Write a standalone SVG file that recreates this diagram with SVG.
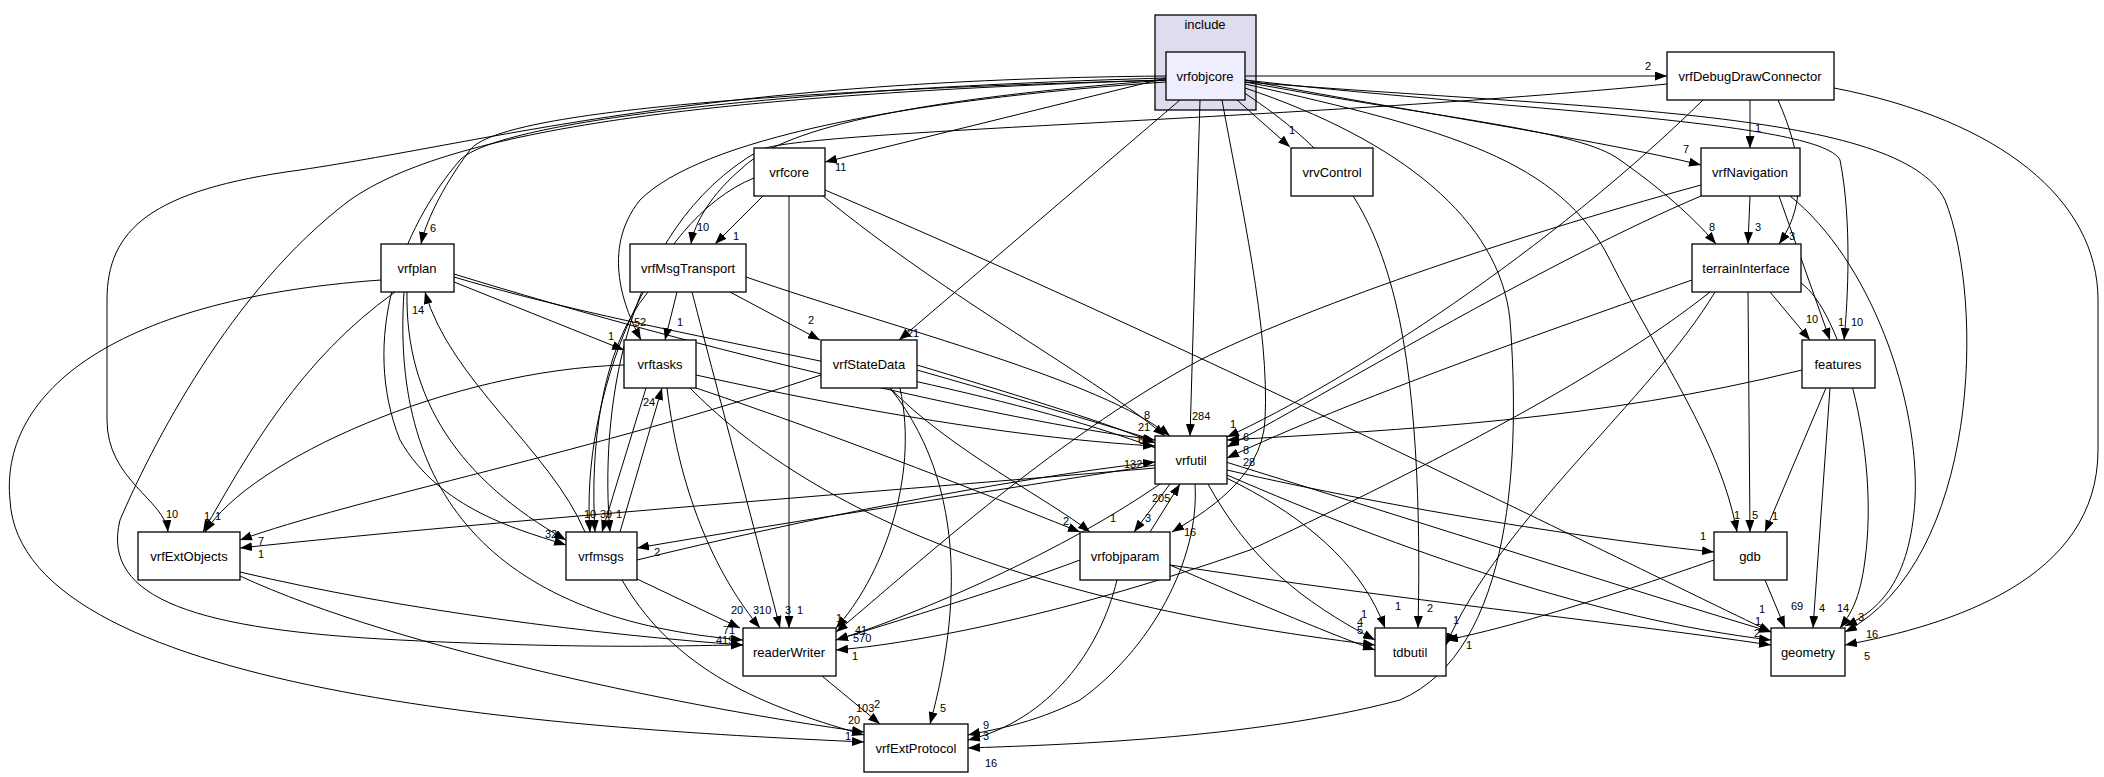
<svg xmlns="http://www.w3.org/2000/svg" width="2104" height="777" viewBox="0 0 2104 777">
<style>
.n rect{fill:#fff;stroke:#000;stroke-width:1.3}
.n text{font-family:"Liberation Sans",Arial,sans-serif;font-size:13px;text-anchor:middle;dominant-baseline:central}
#edges path{fill:none;stroke:#000;stroke-width:1}
.l{font-family:"Liberation Sans",Arial,sans-serif;font-size:11px}
</style>
<defs><marker id="a" markerUnits="userSpaceOnUse" markerWidth="12" markerHeight="9" refX="12" refY="4.5" orient="auto"><path d="M0,0L12,4.5L0,9z" fill="#000"/></marker></defs>
<rect width="2104" height="777" fill="#fff"/>
<g id="cluster_include"><rect x="1155" y="15" width="101" height="95" fill="#dddded" stroke="#000" stroke-width="1.3"/><text x="1205" y="29" font-family="Liberation Sans,Arial,sans-serif" font-size="13" text-anchor="middle">include</text></g>
<g id="edges" marker-end="url(#a)">
<path d="M1245,76 L1667,76"/>
<path d="M1237,100 L1290,147"/>
<path d="M1245,80 C1400,110 1600,140 1701,165"/>
<path d="M1245,82 C1450,120 1580,130 1620,160 C1670,195 1700,225 1716,244"/>
<path d="M1245,80 C1500,110 1820,120 1840,160 C1852,220 1848,300 1844,340"/>
<path d="M1245,84 C1450,130 1560,160 1610,260 C1660,360 1720,440 1737,532"/>
<path d="M1245,82 C1600,110 1900,110 1945,200 C1985,300 1980,560 1845,632"/>
<path d="M1166,78 L825,162"/>
<path d="M1166,80 C900,100 780,130 740,170 C705,200 693,230 691,244"/>
<path d="M1166,80 C800,90 500,110 470,150 C440,190 425,225 421,244"/>
<path d="M1166,82 C900,100 700,140 640,200 C600,250 625,310 641,340"/>
<path d="M1180,100 L899,340"/>
<path d="M1200,100 L1190,436"/>
<path d="M1222,100 C1240,200 1270,330 1265,420 C1262,480 1200,515 1172,532"/>
<path d="M1243,92 C1330,150 1370,200 1395,300 C1420,400 1420,550 1418,628"/>
<path d="M1245,88 C1400,140 1500,220 1510,320 C1520,450 1515,650 1400,700 C1250,740 1050,745 968,748"/>
<path d="M1166,76 C700,80 500,140 300,170 C150,190 107,230 107,300 L107,420 C107,480 165,500 168,532"/>
<path d="M1166,78 C800,88 500,120 460,160 C400,230 360,340 400,440 C440,510 520,530 566,545"/>
<path d="M1166,80 C700,95 450,130 350,200 C230,290 150,450 120,520 C100,600 200,630 400,640 C600,650 700,645 743,645"/>
<path d="M1750,100 L1750,148"/>
<path d="M1778,100 C1800,150 1810,200 1779,244"/>
<path d="M1703,100 C1550,250 1350,380 1227,437"/>
<path d="M1834,88 C2000,120 2098,200 2098,300 L2098,450 C2098,580 1950,625 1845,645"/>
<path d="M1667,84 C1300,120 800,130 760,150 C620,230 600,420 610,532"/>
<path d="M1750,196 L1748,244"/>
<path d="M1779,196 L1830,340"/>
<path d="M1790,196 C1870,260 1920,400 1915,500 C1910,580 1880,610 1845,626"/>
<path d="M1701,196 C1550,260 1350,380 1227,447"/>
<path d="M1701,185 C1500,240 1300,310 1200,360 C1050,440 900,580 836,632"/>
<path d="M1692,280 C1550,330 1350,400 1227,458"/>
<path d="M1710,292 C1600,380 1400,480 1250,550 C1050,620 900,645 836,650"/>
<path d="M1715,292 C1650,400 1500,520 1446,645"/>
<path d="M1748,292 L1750,532"/>
<path d="M1770,292 L1810,340"/>
<path d="M1801,283 C1840,310 1880,450 1865,560 C1860,600 1850,615 1840,628"/>
<path d="M1802,370 C1600,420 1400,430 1227,440"/>
<path d="M1826,388 L1765,532"/>
<path d="M1830,388 L1813,628"/>
<path d="M1714,560 C1600,600 1500,630 1446,640"/>
<path d="M1765,580 L1785,628"/>
<path d="M1227,470 C1400,510 1600,540 1714,552"/>
<path d="M1227,475 C1400,550 1600,620 1771,640"/>
<path d="M1208,484 C1250,560 1300,600 1375,640"/>
<path d="M1170,484 L1134,532"/>
<path d="M1160,484 C1050,560 900,620 836,640"/>
<path d="M1195,484 C1200,560 1150,650 1080,700 C1030,725 990,730 968,735"/>
<path d="M1155,465 C1000,490 800,520 637,548"/>
<path d="M1155,468 C900,490 500,520 240,548"/>
<path d="M1150,532 L1180,484"/>
<path d="M1080,560 C1000,590 900,620 836,640"/>
<path d="M1170,565 C1250,600 1320,630 1375,650"/>
<path d="M1170,565 C1400,600 1600,620 1771,645"/>
<path d="M1117,580 C1100,650 1050,720 968,740"/>
<path d="M637,560 C800,520 1000,480 1155,462"/>
<path d="M620,532 L662,388"/>
<path d="M585,532 C550,450 450,380 425,292"/>
<path d="M635,578 L740,628"/>
<path d="M622,580 C680,680 780,710 864,735"/>
<path d="M646,388 L602,532"/>
<path d="M624,365 C450,370 250,460 205,532"/>
<path d="M696,375 C900,420 1050,440 1155,446"/>
<path d="M696,388 C850,440 1000,500 1080,532"/>
<path d="M690,388 C800,500 1000,600 1375,645"/>
<path d="M667,388 C680,500 720,580 760,628"/>
<path d="M454,282 L624,350"/>
<path d="M395,292 C300,360 250,450 203,532"/>
<path d="M407,292 C405,400 460,480 566,540"/>
<path d="M454,274 C700,350 1000,420 1155,440"/>
<path d="M454,277 C800,380 1300,400 1385,628"/>
<path d="M404,292 C390,500 500,620 743,640"/>
<path d="M381,280 C100,300 0,400 10,500 C20,700 600,730 864,742"/>
<path d="M821,375 C600,450 350,500 240,540"/>
<path d="M917,365 C1000,390 1100,420 1155,443"/>
<path d="M890,388 C950,450 1050,500 1090,532"/>
<path d="M900,388 C920,480 880,580 836,628"/>
<path d="M890,388 C980,500 950,650 930,724"/>
<path d="M917,370 C1200,450 1500,550 1771,632"/>
<path d="M677,292 L665,340"/>
<path d="M730,292 L820,340"/>
<path d="M648,292 C600,350 590,450 595,532"/>
<path d="M692,292 C720,400 760,550 780,628"/>
<path d="M746,277 C900,330 1100,380 1170,436"/>
<path d="M763,196 L715,244"/>
<path d="M789,196 L789,628"/>
<path d="M754,178 C650,220 580,400 590,532"/>
<path d="M823,196 C950,300 1100,380 1165,436"/>
<path d="M825,190 C1200,350 1600,550 1771,632"/>
<path d="M240,572 C400,610 600,635 743,645"/>
<path d="M240,576 C400,650 700,710 864,732"/>
<path d="M822,676 L880,724"/>
</g>
<g id="labels" class="l">
<text x="1645" y="70">2</text><text x="1289" y="134">1</text><text x="1683" y="153">7</text><text x="1709" y="231">8</text><text x="1851" y="326">10</text>
<text x="1734" y="519">1</text><text x="1866" y="638">16</text><text x="835" y="171">11</text><text x="697" y="231">10</text><text x="430" y="232">6</text>
<text x="634" y="326">52</text><text x="907" y="337">21</text><text x="1192" y="420">284</text><text x="1184" y="536">16</text><text x="1427" y="612">2</text>
<text x="985" y="767">16</text><text x="166" y="518">10</text><text x="545" y="538">32</text><text x="716" y="644">419</text><text x="1755" y="132">1</text>
<text x="1789" y="240">3</text><text x="1230" y="428">1</text><text x="1864" y="660">5</text><text x="616" y="518">1</text><text x="1755" y="231">3</text>
<text x="1838" y="326">1</text><text x="1858" y="621">3</text><text x="1243" y="454">8</text><text x="836" y="622">1</text><text x="1243" y="466">28</text>
<text x="852" y="660">1</text><text x="1466" y="649">1</text><text x="1752" y="519">5</text><text x="1806" y="323">10</text><text x="1837" y="612">14</text>
<text x="1243" y="441">6</text><text x="1772" y="520">1</text><text x="1819" y="612">4</text><text x="1453" y="624">1</text><text x="1791" y="610">69</text>
<text x="1700" y="540">1</text><text x="1754" y="637">2</text><text x="1361" y="618">1</text><text x="1145" y="522">3</text><text x="853" y="642">570</text>
<text x="983" y="729">9</text><text x="654" y="556">2</text><text x="258" y="545">7</text><text x="1152" y="502">205</text><text x="855" y="634">41</text>
<text x="1357" y="634">5</text><text x="1755" y="625">1</text><text x="983" y="740">3</text><text x="1124" y="468">132</text><text x="643" y="406">24</text>
<text x="412" y="314">14</text><text x="731" y="614">20</text><text x="856" y="712">103</text><text x="600" y="518">39</text><text x="215" y="520">1</text>
<text x="1144" y="419">8</text><text x="1063" y="525">2</text><text x="1357" y="626">4</text><text x="753" y="614">310</text><text x="608" y="340">1</text>
<text x="204" y="520">1</text><text x="1395" y="610">1</text><text x="723" y="634">71</text><text x="845" y="740">1</text><text x="258" y="558">1</text>
<text x="1138" y="431">21</text><text x="1110" y="522">1</text><text x="940" y="712">5</text><text x="1759" y="613">1</text><text x="677" y="326">1</text>
<text x="808" y="324">2</text><text x="584" y="518">10</text><text x="785" y="614">3</text><text x="1138" y="444">60</text><text x="733" y="240">1</text>
<text x="797" y="614">1</text><text x="848" y="724">20</text><text x="874" y="708">2</text>
</g>
<g id="vrfobjcore" class="n"><rect x="1166" y="52" width="79" height="48" style="fill:#eeeeff"/><text x="1205" y="76">vrfobjcore</text></g>
<g id="vrfDebugDrawConnector" class="n"><rect x="1667" y="52" width="167" height="48"/><text x="1750" y="76">vrfDebugDrawConnector</text></g>
<g id="vrvControl" class="n"><rect x="1291" y="148" width="82" height="48"/><text x="1332" y="172">vrvControl</text></g>
<g id="vrfNavigation" class="n"><rect x="1701" y="148" width="99" height="48"/><text x="1750" y="172">vrfNavigation</text></g>
<g id="vrfcore" class="n"><rect x="754" y="148" width="71" height="48"/><text x="789" y="172">vrfcore</text></g>
<g id="vrfplan" class="n"><rect x="381" y="244" width="73" height="48"/><text x="417" y="268">vrfplan</text></g>
<g id="vrfMsgTransport" class="n"><rect x="630" y="244" width="116" height="48"/><text x="688" y="268">vrfMsgTransport</text></g>
<g id="terrainInterface" class="n"><rect x="1692" y="244" width="109" height="48"/><text x="1746" y="268">terrainInterface</text></g>
<g id="vrftasks" class="n"><rect x="624" y="340" width="72" height="48"/><text x="660" y="364">vrftasks</text></g>
<g id="vrfStateData" class="n"><rect x="821" y="340" width="96" height="48"/><text x="869" y="364">vrfStateData</text></g>
<g id="features" class="n"><rect x="1802" y="340" width="73" height="48"/><text x="1838" y="364">features</text></g>
<g id="vrfutil" class="n"><rect x="1155" y="436" width="72" height="48"/><text x="1191" y="460">vrfutil</text></g>
<g id="vrfExtObjects" class="n"><rect x="138" y="532" width="102" height="48"/><text x="189" y="556">vrfExtObjects</text></g>
<g id="vrfmsgs" class="n"><rect x="566" y="532" width="71" height="48"/><text x="601" y="556">vrfmsgs</text></g>
<g id="vrfobjparam" class="n"><rect x="1080" y="532" width="90" height="48"/><text x="1125" y="556">vrfobjparam</text></g>
<g id="gdb" class="n"><rect x="1714" y="532" width="73" height="48"/><text x="1750" y="556">gdb</text></g>
<g id="readerWriter" class="n"><rect x="743" y="628" width="93" height="48"/><text x="789" y="652">readerWriter</text></g>
<g id="tdbutil" class="n"><rect x="1375" y="628" width="71" height="48"/><text x="1410" y="652">tdbutil</text></g>
<g id="geometry" class="n"><rect x="1771" y="628" width="74" height="48"/><text x="1808" y="652">geometry</text></g>
<g id="vrfExtProtocol" class="n"><rect x="864" y="724" width="104" height="48"/><text x="916" y="748">vrfExtProtocol</text></g>
</svg>
